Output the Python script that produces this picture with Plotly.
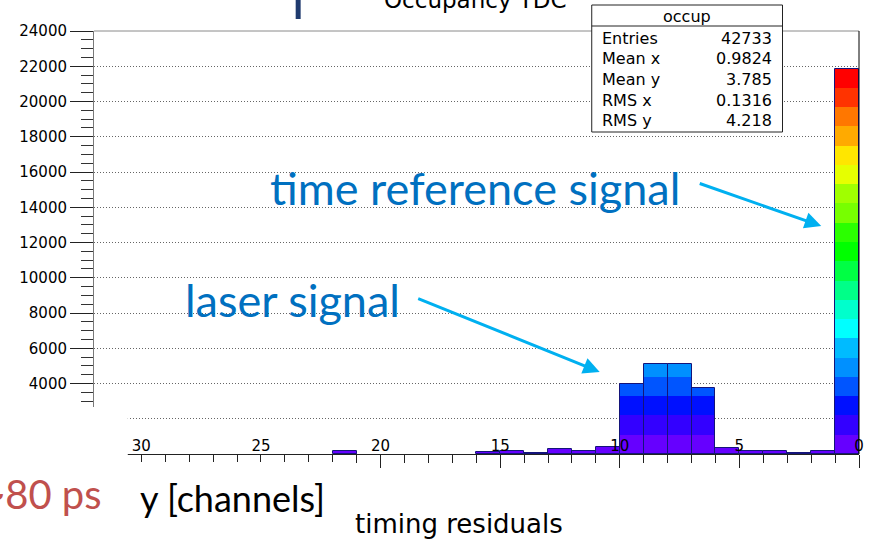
import plotly.graph_objects as go

# Occupancy per y channel (bin low edge = channel number, unit width)
channels = list(range(32))
counts = [21870, 170, 80, 170, 160, 330, 3760, 5080, 5080, 3980,
          420, 150, 270, 80, 150, 120, 0, 0, 0, 0,
          0, 150, 0, 0, 0, 0, 0, 0, 0, 0, 0, 0]

x_tick_vals = [0, 5, 10, 15, 20, 25, 30]
y_tick_vals = list(range(0, 24001, 2000))

stat_title = "occup"
stat_names = ["Entries", "Mean x", "Mean y", "RMS x", "RMS y"]
stat_values = ["42733", "0.9824", "3.785", "0.1316", "4.218"]

# ROOT-like rainbow palette, lowest level first
palette = ["#6600ff", "#3300ff", "#0010ff", "#0055ff", "#0090ff",
           "#00bbff", "#00ffff", "#00ffcc", "#00ff88", "#00ff44",
           "#00ff00", "#2bff00", "#77ff00", "#a0ff00", "#e6ff00",
           "#ffe600", "#ffaa00", "#ff7700", "#ff3300", "#ff0000"]

W, H = 871, 540
L, R, T, B = 94, 7, 31, 86


def px(x):
    return (x - L) / (W - L - R)


def py(y):
    return (H - B - y) / (H - T - B)


ROOT_FONT = "DejaVu Sans"
SLIDE_FONT = "Lato"

centers = [c + 0.5 for c in channels]
n_levels = len(palette)
step = max(counts) / n_levels

fig = go.Figure()

# colour bands: each bar is filled level by level
for k, col in enumerate(palette):
    lo = k * step
    seg = [min(max(v - lo, 0), step) if v > lo else None for v in counts]
    fig.add_trace(go.Bar(
        x=centers, y=seg, base=[lo] * len(counts), width=1,
        marker=dict(color=col, line=dict(width=0)),
        hoverinfo="skip", showlegend=False,
    ))

# bar outlines
fig.add_trace(go.Bar(
    x=centers, y=[v if v > 0 else None for v in counts], width=1,
    marker=dict(color="rgba(0,0,0,0)", line=dict(color="#14147a", width=1)),
    hoverinfo="skip", showlegend=False,
))

shapes = [
    # frame
    dict(type="line", xref="paper", yref="paper", x0=0, x1=1, y0=1, y1=1,
         line=dict(color="#8a8a8a", width=1), layer="above"),
    dict(type="line", xref="paper", yref="paper", x0=1, x1=1, y0=0, y1=1,
         line=dict(color="#000000", width=1), layer="above"),
    # white boxes of the text placed over the lower-left corner
    dict(type="rect", xref="paper", yref="paper", x0=px(-5), x1=px(128),
         y0=py(545), y1=py(407), fillcolor="white", line=dict(width=0), layer="above"),
    dict(type="rect", xref="paper", yref="paper", x0=px(-5), x1=px(340),
         y0=py(545), y1=py(462), fillcolor="white", line=dict(width=0), layer="above"),
    # statistics box
    dict(type="rect", xref="paper", yref="paper", x0=px(595), x1=px(787),
         y0=py(132), y1=py(5), fillcolor="white", line=dict(color="#222", width=1),
         layer="above"),
    dict(type="line", xref="paper", yref="paper", x0=px(595), x1=px(787),
         y0=py(26), y1=py(26), line=dict(color="#222", width=1), layer="above"),
    # slide title marker
    dict(type="rect", xref="paper", yref="paper", x0=px(297), x1=px(302),
         y0=py(19), y1=py(-5), fillcolor="#1f3a6e", line=dict(width=0), layer="above"),
]

annotations = []


def note(text, x, y, size, color, family, xanchor="left", yanchor="middle"):
    annotations.append(dict(
        text=text, xref="paper", yref="paper", x=px(x), y=py(y),
        xanchor=xanchor, yanchor=yanchor, showarrow=False,
        font=dict(family=family, size=size, color=color),
    ))


# statistics box contents
note(stat_title, 691, 16, 16, "black", ROOT_FONT, xanchor="center")
for i, (name, val) in enumerate(zip(stat_names, stat_values)):
    yy = 38 + i * 20.7
    note(name, 603, yy, 16, "black", ROOT_FONT)
    note(val, 778, yy, 16, "black", ROOT_FONT, xanchor="right")

# histogram title (top cut off)
note("Occupancy TDC", 384, 0, 23, "black", ROOT_FONT)

# slide labels
note("time reference signal", 269, 188, 45, "#0070c0", SLIDE_FONT)
note("laser signal", 184, 300, 45, "#0070c0", SLIDE_FONT)
note("~80 ps", 104, 494, 40, "#c0504d", SLIDE_FONT, xanchor="right")
note("y [channels]", 138, 498, 36, "black", SLIDE_FONT)
note("timing residuals", 355, 524, 26, "black", ROOT_FONT)

# arrows
for tip, tail in [((603, 372), (420, 298)), ((826, 226), (703, 183))]:
    annotations.append(dict(
        text="", xref="paper", yref="paper", x=px(tip[0]), y=py(tip[1]),
        ax=tail[0] - tip[0], ay=tail[1] - tip[1], axref="pixel", ayref="pixel",
        showarrow=True, arrowhead=2, arrowsize=1.1, arrowwidth=3,
        arrowcolor="#00b0f0",
    ))

fig.update_layout(
    width=W, height=H,
    margin=dict(l=L, r=R, t=T, b=B, pad=0),
    paper_bgcolor="white", plot_bgcolor="white",
    barmode="overlay", bargap=0,
    showlegend=False,
    shapes=shapes, annotations=annotations,
    xaxis=dict(
        range=[31.98, 0], tickvals=x_tick_vals,
        ticks="outside", ticklen=13, tickwidth=1, tickcolor="#222",
        minor=dict(dtick=1, tick0=0, ticks="outside", ticklen=8, tickcolor="#222"),
        ticklabelposition="inside", ticklabeloverflow="allow",
        tickfont=dict(family=ROOT_FONT, size=15, color="black"),
        showline=True, linecolor="#222", linewidth=1,
        showgrid=False, zeroline=False,
    ),
    yaxis=dict(
        range=[0, 24000], tickvals=y_tick_vals, tickformat="d",
        ticks="outside", ticklen=23, tickwidth=1, tickcolor="#222",
        minor=dict(dtick=500, ticks="outside", ticklen=12, tickcolor="#333",
                   showgrid=False),
        tickfont=dict(family=ROOT_FONT, size=15, color="black"),
        showline=True, linecolor="#7a7a7a", linewidth=1,
        showgrid=True, gridcolor="#666", gridwidth=1, griddash="1px,2px",
        zeroline=False,
    ),
)

fig.write_html("out.html")
